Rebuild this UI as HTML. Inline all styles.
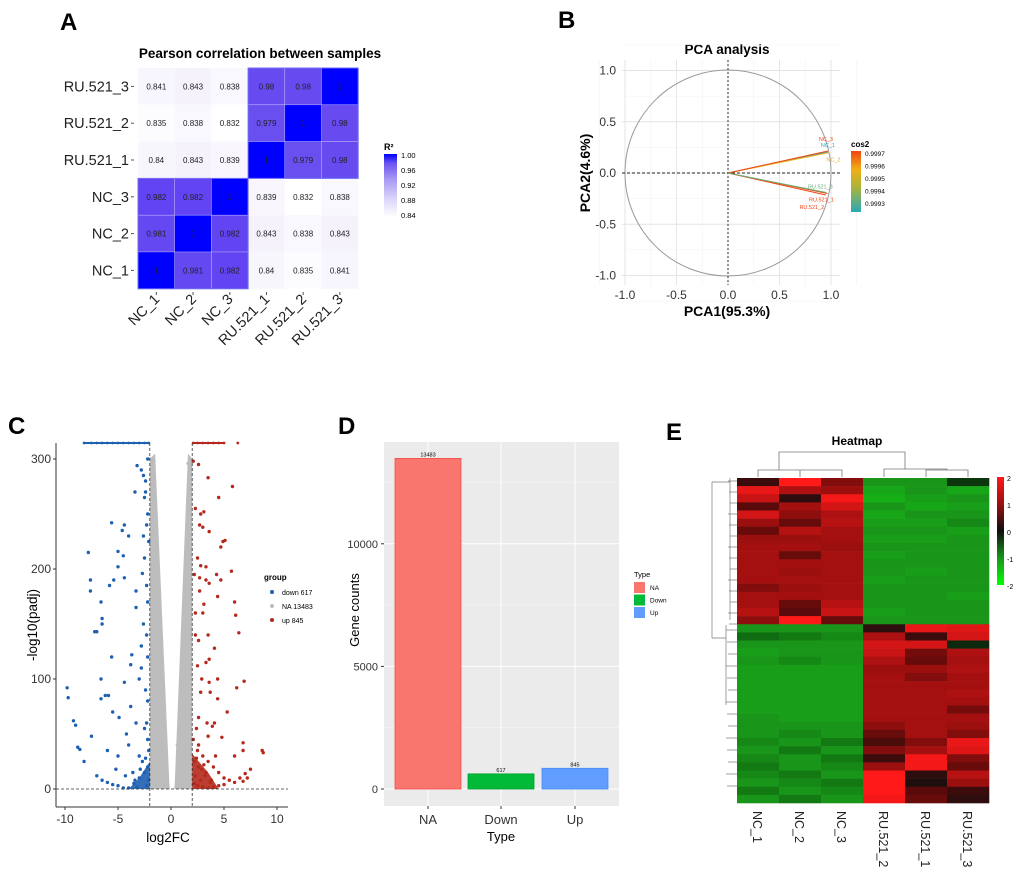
<!DOCTYPE html>
<html><head><meta charset="utf-8">
<style>
html,body{margin:0;padding:0;background:#fff;}
svg{display:block;font-family:"Liberation Sans",Arial,sans-serif;}
</style></head>
<body>
<svg id="fig" width="1020" height="870" viewBox="0 0 1020 870" xmlns="http://www.w3.org/2000/svg">
<g id="pA"></g>
<g id="pB"></g>
<g id="pC"></g>
<g id="pD"></g>
<g id="pE"></g>
</svg>
<script>
// ---------- Panel A data ----------
const corrSamples = ["NC_1","NC_2","NC_3","RU.521_1","RU.521_2","RU.521_3"];
const corrRowsTopDown = ["RU.521_3","RU.521_2","RU.521_1","NC_3","NC_2","NC_1"];
const corrValues = [
 [0.841,0.843,0.838,0.98,0.98,1],
 [0.835,0.838,0.832,0.979,1,0.98],
 [0.84,0.843,0.839,1,0.979,0.98],
 [0.982,0.982,1,0.839,0.832,0.838],
 [0.981,1,0.982,0.843,0.838,0.843],
 [1,0.981,0.982,0.84,0.835,0.841]
];
const corrTicks = ["1.00","0.96","0.92","0.88","0.84"];
// ---------- Panel B data ----------
const pcaNames = ["NC_1","NC_2","NC_3","RU.521_1","RU.521_2","RU.521_3"];
const pcaX = [0.97,0.985,0.97,0.965,0.95,0.955];
const pcaY = [0.205,0.2,0.215,-0.2,-0.215,-0.19];
const pcaCos2 = [0.9993,0.9996,0.9997,0.9997,0.9997,0.9994];
const pcaTicks = [-1,-0.5,0,0.5,1];
const cosTicks = ["0.9997","0.9996","0.9995","0.9994","0.9993"];
// ---------- Panel C data ----------
const downX = [-9.8,-9.7,-9.2,-9,-8.8,-8.6,-8.2,-7.8,-7.6,-7.6,-7.5,-7.2,-7,-6.6,-6.5,-6.5,-6.6,-6.6,-6.2,-5.9,-5.8,-5.6,-5.6,-5.5,-5.4,-5,-5,-4.9,-4.6,-4.5,-4.4,-4.4,-4.4,-4,-3.8,-3.7,-3.4,-3.3,-3.3,-3.2,-2.8,-2.6,-2.4,-2.3,-2.2,-2.5,-2.7,-2.6,-2.3,-2.8,-3,-2.4,-2.2,-3.3,-2.5,-2.2,-4,-3,-5,-6,-7,-6.5,-6,-5.5,-5,-4.5,-4,-3.5,-3,-2.5,-2.2,-2.1,-2.3,-3.2,-2.7,-3.6,-4.3,-5.2,-2.2,-2.2,-2.4,-2.6,-2.8,-3.8,-4.2,-2.3,-2.1,-2.4,-2.9,-3.4,-2.2,-2.5,-2.1,-2.3];
const downY = [92,83,62,58,38,36,25,215,190,180,48,143,143,170,155,150,100,82,85,85,185,242,120,70,190,216,202,65,235,212,240,192,97,230,113,122,270,180,165,294,290,285,280,240,250,210,196,150,140,130,100,90,80,60,55,45,40,30,30,35,12,8,6,4,3,1,1,5,10,15,20,8,3,2,25,15,12,18,120,170,270,230,110,75,50,60,35,28,18,8,300,265,225,185];
const upX = [2.1,2.6,3.5,5.8,4.5,2.3,2.8,3.1,2.7,3,3.6,4.9,5.1,4.7,2.5,2.8,3.3,2.2,2.7,3.3,3.6,4.3,4.7,5.7,3.1,3,4.4,6,6.1,3.5,2.3,6.4,2.6,4.1,2.5,3.6,3.3,2.9,3.6,4.4,6.9,6.2,2.8,3.7,4.4,5.3,2.6,3.4,3.9,4.1,2.4,3.5,4.8,6.8,6.8,8.6,8.7,6,2.5,3,3.5,4,4.5,5,5.5,6,6.5,7,7.5,7.2,6.8,5,4.5,4,3.5,3,2.5,2.2,2.3,2.8,3.3,3.8,2.6,3.1,4.2,2.2,2.4,2.9,3.2,2.1,2.6,3.7,2.3,2.7];
const upY = [298,295,283,275,265,255,250,252,240,238,234,225,226,220,210,203,202,195,192,190,187,195,190,198,168,160,175,170,158,140,140,142,135,128,112,118,115,100,97,100,98,92,88,88,82,70,65,60,57,60,55,48,47,42,35,35,33,30,35,30,25,20,15,10,8,6,10,14,18,10,7,4,3,2,1,2,3,5,12,8,15,8,20,22,30,25,28,18,12,45,40,6,160,180];
const naX = [-1.9,-1.8,-1.7,-1.6,-1.9,-1.5,-1.8,-1.4,-1.2,-1.0,-0.8,-0.6,-1.9,-1.7,-1.3,1.9,1.8,1.7,1.6,1.9,1.5,1.8,1.4,1.2,1.0,0.8,0.6,1.9,1.7,1.3,-1.6,1.6];
const naY = [300,280,250,220,200,180,160,140,120,95,70,45,110,60,30,290,270,245,215,195,175,150,130,110,90,65,40,100,55,25,298,296];
const capDownX = [-8.2,-7.5,-7,-6.5,-6,-5.5,-5,-4.5,-4,-3.5,-3,-2.5,-2.1];
const capUpX = [2.1,2.5,3,3.5,4,4.5,5,6.3];
const volXTicks = [-10,-5,0,5,10];
const volYTicks = [0,100,200,300];
const volLegend = ["down 617","NA 13483","up 845"];
// ---------- Panel D data ----------
const barTypes = ["NA","Down","Up"];
const barCounts = [13483,617,845];
const barYTicks = [0,5000,10000];
// ---------- Panel E data ----------
const heatCols = ["NC_1","NC_2","NC_3","RU.521_2","RU.521_1","RU.521_3"];
const heatRows = [
 [0.3,2,0.8,-1,-1,-0.3],[1.8,1.2,1,-1.2,-1,-1.2],[1.5,0.2,1.9,-1.3,-1.1,-1],[0.5,1.1,1.6,-1,-1.2,-1.1],
 [1.6,0.9,1.2,-1.2,-1,-1],[1,0.6,1.3,-1.1,-1.1,-0.9],[0.6,1.3,1.1,-1,-1,-1.1],[1,1,1.1,-1.1,-1.1,-1],
 [1.1,1.1,1,-1,-1,-1],[1.1,0.6,1.1,-1.1,-1,-1],[1.1,1.1,1.1,-1,-1,-1],[1.1,1,1.1,-1,-1.1,-1],
 [1.1,1.1,1.1,-1.1,-1,-1],[0.8,1,1.1,-1,-1,-1],[1.1,1.1,1.1,-1,-1,-1.1],[1.1,0.6,1.3,-1,-1,-1],
 [1.3,0.5,1.5,-1.1,-1,-1],[0.9,2,0.6,-1,-1,-1],
 [-1,-1,-1,0.2,1.8,1.7],[-0.7,-0.8,-0.9,1.2,0.3,1.6],[-1,-1,-1,1.6,1.6,-0.2],[-1.1,-1,-1,1.5,0.7,1.2],
 [-1,-0.9,-1,1.2,0.6,1.1],[-1.1,-1.1,-1.1,1,1,1.2],[-1.1,-1.1,-1.1,1.1,0.8,1.1],[-1.1,-1.1,-1.1,1.1,1.1,1.1],
 [-1.1,-1.1,-1.1,1.1,1.1,1.2],[-1.1,-1.1,-1.1,1.1,1.1,1.1],[-1.1,-1.1,-1.1,1.1,1.1,0.7],[-1,-1.1,-1.1,1.1,1.1,1.1],
 [-1,-1,-1,0.9,1.1,1],[-1,-0.9,-1,0.6,1.1,0.8],[-0.9,-1,-0.8,0.4,0.8,1.8],[-1,-0.8,-1,0.8,1.1,1.7],
 [-0.9,-1,-0.8,0.3,1.9,0.8],[-0.8,-1,-0.9,1,1.9,0.6],[-0.9,-0.8,-1,2,0.2,1.3],[-1,-0.9,-0.8,2,0.1,1],
 [-0.8,-1,-0.9,2,0.5,0.3],[-1,-0.8,-1,1.9,0.6,0.2]
];
const heatTicks = [2,1,0,-1,-2];

const NS="http://www.w3.org/2000/svg";
function mk(parent,tag,attrs,text){const e=document.createElementNS(NS,tag);for(const k in attrs)e.setAttribute(k,attrs[k]);if(text!==undefined)e.textContent=text;parent.appendChild(e);return e;}
function lerp(a,b,t){return a+(b-a)*t;}
function mixc(c1,c2,t){return `rgb(${Math.round(lerp(c1[0],c2[0],t))},${Math.round(lerp(c1[1],c2[1],t))},${Math.round(lerp(c1[2],c2[2],t))})`;}
function stops(v,st){if(v<=st[0][0])return mixc(st[0][1],st[0][1],0);for(let i=1;i<st.length;i++){if(v<=st[i][0]){const t=(v-st[i-1][0])/(st[i][0]-st[i-1][0]);return mixc(st[i-1][1],st[i][1],t);}}return mixc(st[st.length-1][1],st[st.length-1][1],0);}
function label(g,name,x,y,txt,attrs){const t=mk(g,'text',Object.assign({x:x,y:y},attrs),txt);return t;}

// ================= Panel A =================
(function(){
const g=document.getElementById('pA');
label(g,'panel-a-letter',60,30,'A',{'font-size':24,'font-weight':'bold'});
label(g,'heatmap-title',260,58,'Pearson correlation between samples',{'font-size':13.5,'font-weight':'bold','text-anchor':'middle'});
const x0=138,y0=68,cw=36.7,ch=36.8;
const corrStops=[[0.832,[255,255,255]],[0.845,[243,240,252]],[0.9,[200,190,248]],[0.979,[105,78,240]],[0.983,[95,65,242]],[1.0,[0,0,255]]];
corrValues.forEach((row,i)=>{row.forEach((v,j)=>{
 const r=mk(g,'rect',{x:x0+j*cw,y:y0+i*ch,width:cw,height:ch,fill:stops(v,corrStops),stroke:'rgba(255,255,255,0.4)','stroke-width':0.6});
 
 const t=mk(g,'text',{x:x0+j*cw+cw/2,y:y0+i*ch+ch/2+3,'font-size':8,'text-anchor':'middle',fill:'#222'},String(v));
 
});});
mk(g,'rect',{x:x0+3*cw,y:y0,width:3*cw,height:3*ch,fill:'none',stroke:'#6f6cf5','stroke-width':1});
mk(g,'rect',{x:x0,y:y0+3*ch,width:3*cw,height:3*ch,fill:'none',stroke:'#6f6cf5','stroke-width':1});
corrRowsTopDown.forEach((n,i)=>{label(g,'y-tick-label',129,y0+i*ch+ch/2+5,n,{'font-size':14.5,'text-anchor':'end',fill:'#222'});
 mk(g,'line',{x1:131,x2:134,y1:y0+i*ch+ch/2,y2:y0+i*ch+ch/2,stroke:'#555'});});
corrSamples.forEach((n,j)=>{const cx=x0+j*cw+cw/2;
 mk(g,'line',{x1:cx,x2:cx,y1:292,y2:295,stroke:'#555'});
 label(g,'x-tick-label',cx+4,300,n,{'font-size':14.5,'text-anchor':'end',fill:'#222',transform:`rotate(-45 ${cx+4} 300)`});});
// legend
const d=mk(g,'defs',{});const lg=mk(d,'linearGradient',{id:'corrGrad',x1:0,y1:1,x2:0,y2:0});
[[0,'#ffffff'],[0.3,'#d9d2fa'],[0.6,'#a898f4'],[0.85,'#6b55f0'],[1,'#0000ff']].forEach(s=>mk(lg,'stop',{offset:s[0],'stop-color':s[1]}));
label(g,'legend-title',384,150,'R²',{'font-size':9,'font-weight':'bold'});
const cb=mk(g,'rect',{x:384,y:154,width:13,height:63,fill:'url(#corrGrad)'});
corrTicks.forEach((t,i)=>label(g,'legend-tick',401,158+i*15,t,{'font-size':7.5}));
})();

// ================= Panel B =================
(function(){
const g=document.getElementById('pB');
const cx=728,cy=173,ux=103,uy=102.5;
const X=v=>cx+v*ux, Y=v=>cy-v*uy;
label(g,'panel-b-letter',558,28,'B',{'font-size':24,'font-weight':'bold'});
label(g,'pca-title',727,54,'PCA analysis',{'font-size':13.5,'font-weight':'bold','text-anchor':'middle'});
for(let v=-1.25;v<=1.26;v+=0.25){const major=Math.abs(v*2-Math.round(v*2))<1e-6;
 mk(g,'line',{x1:X(v),x2:X(v),y1:60,y2:285,stroke:major?'#e4e4e4':'#f1f1f1','stroke-width':major?0.9:0.6});
 mk(g,'line',{x1:622,x2:840,y1:Y(v),y2:Y(v),stroke:major?'#e4e4e4':'#f1f1f1','stroke-width':major?0.9:0.6});}
const c=mk(g,'circle',{cx:cx,cy:cy,r:ux,fill:'none',stroke:'#999','stroke-width':1});
mk(g,'line',{x1:622,x2:840,y1:Y(0),y2:Y(0),stroke:'#222','stroke-dasharray':'3,2'});
mk(g,'line',{x1:X(0),x2:X(0),y1:60,y2:285,stroke:'#555','stroke-dasharray':'2,2','stroke-width':1.2});
const cosStops=[[0.9993,[40,170,180]],[0.9995,[170,180,60]],[0.9996,[240,175,20]],[0.9997,[240,70,20]]];
pcaNames.forEach((n,i)=>{const col=stops(pcaCos2[i],cosStops);
 const l=mk(g,'line',{x1:X(0),y1:Y(0),x2:X(pcaX[i]),y2:Y(pcaY[i]),stroke:col,'stroke-width':1});
 const off=[[0,-5],[4,9],[-2,-10],[-6,8],[-14,14],[-6,-4]][i];
 label(g,'loading-label',X(pcaX[i])+off[0],Y(pcaY[i])+off[1],n,{'font-size':5.5,fill:col,'text-anchor':'middle'});});
pcaTicks.forEach(t=>{const s=t.toFixed(1);
 label(g,'x-tick-label',X(t),299,s,{'font-size':12,'text-anchor':'middle',fill:'#333'});
 label(g,'y-tick-label',616,Y(t)+4,s,{'font-size':12,'text-anchor':'end',fill:'#333'});});
label(g,'x-axis-title',727,316,'PCA1(95.3%)',{'font-size':14,'font-weight':'bold','text-anchor':'middle'});
label(g,'y-axis-title',590,173,'PCA2(4.6%)',{'font-size':14,'font-weight':'bold','text-anchor':'middle',transform:'rotate(-90 590 173)'});
const d=mk(g,'defs',{});const lg=mk(d,'linearGradient',{id:'cosGrad',x1:0,y1:1,x2:0,y2:0});
[[0,'#28aab4'],[0.4,'#aab43c'],[0.7,'#f0af14'],[1,'#f04614']].forEach(s=>mk(lg,'stop',{offset:s[0],'stop-color':s[1]}));
label(g,'legend-title',851,147,'cos2',{'font-size':8,'font-weight':'bold'});
const cb=mk(g,'rect',{x:851,y:151,width:10,height:61,fill:'url(#cosGrad)'});
cosTicks.forEach((t,i)=>label(g,'legend-tick',865,156+i*12.5,t,{'font-size':6.5}));
})();

// ================= Panel C =================
(function(){
const g=document.getElementById('pC');
const X=v=>171+v*10.6, Y=v=>789-v*1.1;
label(g,'panel-c-letter',8,434,'C',{'font-size':24,'font-weight':'bold'});
// dense NA cloud
mk(g,'polygon',{points:[[-2,0],[-2,300],[-1.5,305],[-0.15,4],[-0.1,0]].map(p=>X(p[0])+','+Y(p[1])).join(' '),fill:'#bdbdbd'});
mk(g,'polygon',{points:[[0.3,0],[0.35,4],[1.6,305],[2,300],[2,0]].map(p=>X(p[0])+','+Y(p[1])).join(' '),fill:'#bdbdbd'});
mk(g,'polygon',{points:[[-4,0],[-2,0],[-2,25],[-3,10]].map(p=>X(p[0])+','+Y(p[1])).join(' '),fill:'#1d5fb0',opacity:0.9});
mk(g,'polygon',{points:[[2,0],[4.5,0],[3.5,15],[2,32]].map(p=>X(p[0])+','+Y(p[1])).join(' '),fill:'#b5291c',opacity:0.9});
function pts(xs,ys,col,name){xs.forEach((x,i)=>{const c=mk(g,'circle',{cx:X(x),cy:Y(ys[i]),r:1.7,fill:col});});}
pts(naX,naY,'#bdbdbd','point-na');
pts(downX,downY,'#1d5fb0','point-down');
pts(upX,upY,'#b5291c','point-up');
capDownX.forEach(x=>{const c=mk(g,'circle',{cx:X(x),cy:443,r:1.4,fill:'#1d5fb0'});});
mk(g,'line',{x1:X(-8.2),x2:X(-2.1),y1:443,y2:443,stroke:'#1d5fb0','stroke-width':2});
mk(g,'line',{x1:X(2.1),x2:X(5),y1:443,y2:443,stroke:'#b5291c','stroke-width':2});
capUpX.forEach(x=>{const c=mk(g,'circle',{cx:X(x),cy:443,r:1.4,fill:'#b5291c'});});
mk(g,'line',{x1:X(-2),x2:X(-2),y1:443,y2:807,stroke:'#333','stroke-dasharray':'3,2','stroke-width':0.8});
mk(g,'line',{x1:X(2),x2:X(2),y1:443,y2:807,stroke:'#333','stroke-dasharray':'3,2','stroke-width':0.8});
mk(g,'line',{x1:56,x2:288,y1:Y(0),y2:Y(0),stroke:'#333','stroke-dasharray':'3,2','stroke-width':0.8});
mk(g,'line',{x1:56,x2:56,y1:443,y2:807,stroke:'#333','stroke-width':1});
mk(g,'line',{x1:56,x2:288,y1:807,y2:807,stroke:'#333','stroke-width':1});
volXTicks.forEach(t=>{mk(g,'line',{x1:X(t),x2:X(t),y1:807,y2:810,stroke:'#333'});label(g,'x-tick-label',X(t),823,String(t),{'font-size':12,'text-anchor':'middle',fill:'#333'});});
volYTicks.forEach(t=>{mk(g,'line',{x1:53,x2:56,y1:Y(t),y2:Y(t),stroke:'#333'});label(g,'y-tick-label',51,Y(t)+4,String(t),{'font-size':12,'text-anchor':'end',fill:'#333'});});
label(g,'x-axis-title',168,842,'log2FC',{'font-size':13.5,'text-anchor':'middle'});
label(g,'y-axis-title',37,625,'-log10(padj)',{'font-size':13.5,'text-anchor':'middle',transform:'rotate(-90 37 625)'});
label(g,'legend-title',264,580,'group',{'font-size':8,'font-weight':'bold'});
const lc=['#1d5fb0','#bdbdbd','#b5291c'];
volLegend.forEach((t,i)=>{const c=mk(g,'circle',{cx:272,cy:592+i*14,r:2,fill:lc[i]});
 label(g,'legend-entry',282,595+i*14,t,{'font-size':7});});
})();

// ================= Panel D =================
(function(){
const g=document.getElementById('pD');
const Y=v=>789-v*0.02452;
const bx=[428,501,575],bw=66;
label(g,'panel-d-letter',338,434,'D',{'font-size':24,'font-weight':'bold'});
const bg=mk(g,'rect',{x:384,y:442,width:235,height:364,fill:'#ebebeb'});
[2500,7500,12500].forEach(v=>mk(g,'line',{x1:384,x2:619,y1:Y(v),y2:Y(v),stroke:'#f5f5f5','stroke-width':0.6}));
barYTicks.forEach(v=>mk(g,'line',{x1:384,x2:619,y1:Y(v),y2:Y(v),stroke:'#fff','stroke-width':1}));
bx.forEach(x=>mk(g,'line',{x1:x,x2:x,y1:442,y2:806,stroke:'#fff','stroke-width':1}));
const cols=['#f8766d','#00ba38','#619cff'],strokes=['#f0504a','#00a030','#4a8cf5'];
barTypes.forEach((t,i)=>{const r=mk(g,'rect',{x:bx[i]-bw/2,y:Y(barCounts[i]),width:bw,height:Y(0)-Y(barCounts[i]),fill:cols[i],stroke:strokes[i],'stroke-width':0.8});
 
 label(g,'bar-value-label',bx[i],Y(barCounts[i])-2,String(barCounts[i]),{'font-size':5.5,'text-anchor':'middle'});
 label(g,'x-tick-label',bx[i],824,t,{'font-size':13,'text-anchor':'middle',fill:'#333'});
 mk(g,'line',{x1:bx[i],x2:bx[i],y1:806,y2:809,stroke:'#333'});});
barYTicks.forEach(v=>{label(g,'y-tick-label',378,Y(v)+4,String(v),{'font-size':11,'text-anchor':'end',fill:'#333'});mk(g,'line',{x1:381,x2:384,y1:Y(v),y2:Y(v),stroke:'#333'});});
label(g,'x-axis-title',501,841,'Type',{'font-size':13,'text-anchor':'middle'});
label(g,'y-axis-title',359,610,'Gene counts',{'font-size':13,'text-anchor':'middle',transform:'rotate(-90 359 610)'});
label(g,'legend-title',634,577,'Type',{'font-size':7.5});
barTypes.forEach((t,i)=>{const r=mk(g,'rect',{x:634,y:582+i*12.5,width:11,height:11,fill:cols[i]});
 label(g,'legend-entry',650,590+i*12.5,t,{'font-size':6.5});});
})();

// ================= Panel E =================
(function(){
const g=document.getElementById('pE');
const x0=737,y0=478,w=252,h=325,cw=w/heatCols.length,rh=h/heatRows.length;
label(g,'panel-e-letter',666,440,'E',{'font-size':24,'font-weight':'bold'});
label(g,'heatmap-title',857,445,'Heatmap',{'font-size':12,'font-weight':'bold','text-anchor':'middle'});
const hs=[[-2,[0,255,0]],[-1.5,[20,190,20]],[-1,[25,150,25]],[-0.5,[10,80,10]],[0,[15,15,15]],[0.5,[90,10,10]],[1,[155,15,15]],[1.5,[200,20,20]],[2,[255,25,25]]];
heatRows.forEach((row,i)=>row.forEach((v,j)=>{const r=mk(g,'rect',{x:x0+j*cw,y:y0+i*rh,width:cw+0.3,height:rh+0.3,fill:stops(v,hs)});
 }));
// column dendrogram
const dg=mk(g,'g',{stroke:'#777','stroke-width':0.8,fill:'none'});
const cc=j=>x0+j*cw+cw/2;
mk(dg,'path',{d:`M${cc(1)} 477V470H${cc(2)}V477 M${cc(0)} 477V470H${(cc(1)+cc(2))/2} M${cc(4)} 477V470H${cc(5)}V477 M${cc(3)} 477V469H${(cc(4)+cc(5))/2}V470 M${(cc(0)+cc(1))/2} 470V452H${(cc(3)+cc(4))/2}V469`});
// row dendrogram
const rg=mk(g,'g',{stroke:'#777','stroke-width':0.7,fill:'none'});
mk(rg,'path',{d:'M712 482V638 M712 482H730 M712 638H726 M726 625V705 M730 478V620'});
for(let k=0;k<14;k++){mk(rg,'line',{x1:728+ (k%3),x2:737,y1:y0+k*11+3,y2:y0+k*11+3});mk(rg,'line',{x1:726+(k%3),x2:737,y1:630+k*12,y2:630+k*12});}
heatCols.forEach((n,j)=>label(g,'column-label',cc(j)-5,811,n,{'font-size':12.5,transform:`rotate(90 ${cc(j)-5} 811)`,fill:'#222'}));
const d=mk(g,'defs',{});const lg=mk(d,'linearGradient',{id:'heatGrad',x1:0,y1:1,x2:0,y2:0});
[[0,'#00ff00'],[0.25,'#19961a'],[0.5,'#0f0f0f'],[0.75,'#9b0f0f'],[1,'#ff1919']].forEach(s=>mk(lg,'stop',{offset:s[0],'stop-color':s[1]}));
const cb=mk(g,'rect',{x:997,y:477,width:7,height:108,fill:'url(#heatGrad)'});
heatTicks.forEach((t,i)=>label(g,'legend-tick',1007,481+i*27,String(t),{'font-size':7}));
})();
</script>
</body></html>
